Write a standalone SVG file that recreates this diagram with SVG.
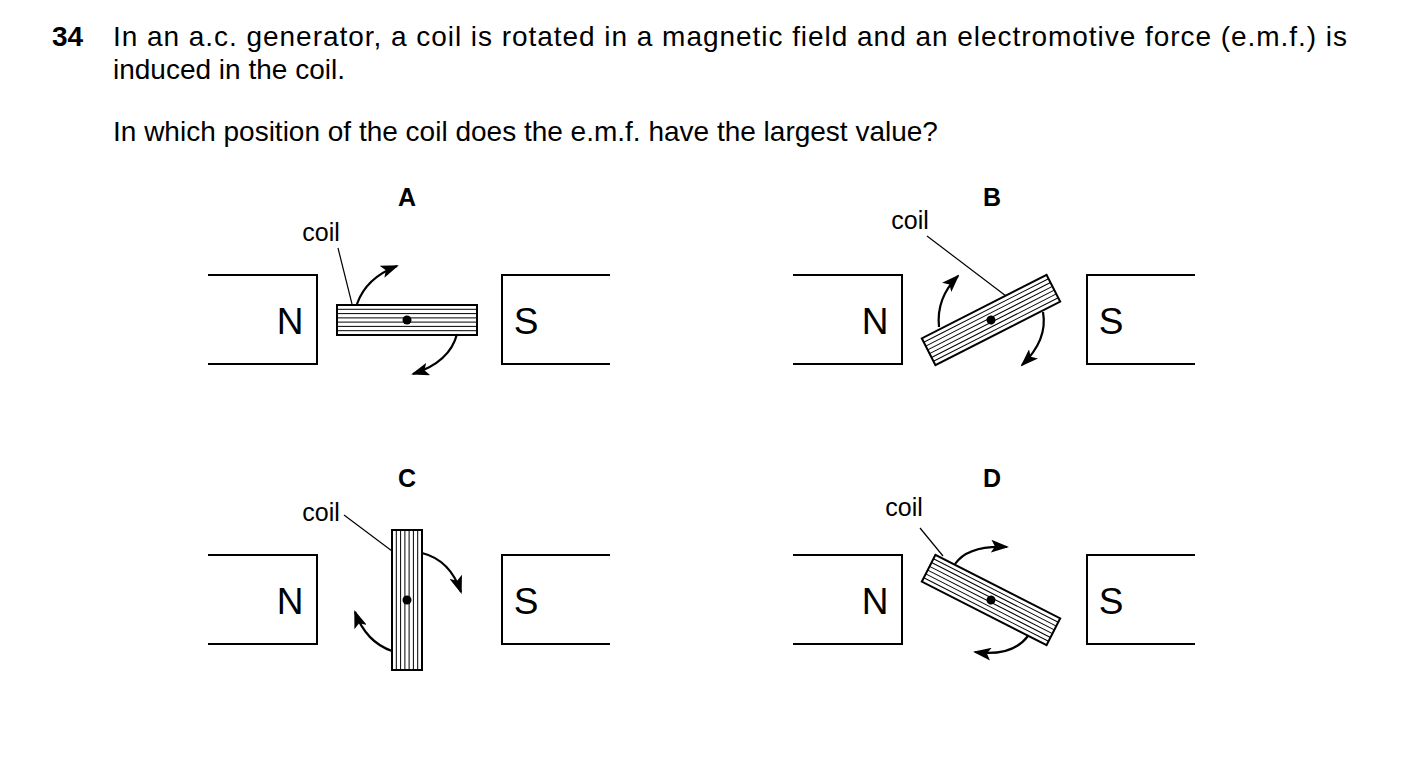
<svg xmlns="http://www.w3.org/2000/svg" width="1403" height="763" viewBox="0 0 1403 763">
<style>
text{font-family:"Liberation Sans",Arial,sans-serif;fill:#000}
.q{font-size:28px}
.b{font-weight:bold}
.lbl{font-size:25px;font-weight:bold;text-anchor:middle}
.coil{font-size:25px;text-anchor:middle}
.pole{font-size:37px;text-anchor:middle}
.mag{fill:none;stroke:#000;stroke-width:2}
.lead{stroke:#000;stroke-width:1.2;fill:none}
.arr{stroke:#000;stroke-width:2.2;fill:none;marker-end:url(#ah)}
.cr{fill:#fff;stroke:#000;stroke-width:2}
.h{stroke:#000;stroke-width:1}
</style>
<defs>
<marker id="ah" markerWidth="18" markerHeight="13" refX="16" refY="6.5" orient="auto" markerUnits="userSpaceOnUse" viewBox="0 0 18 13"><path d="M0,0 L18,6.5 L0,13 L4,6.5 Z" fill="#000"/></marker>
<g id="coilshape">
<rect class="cr" x="-70" y="-15" width="140" height="30"/>
<path class="h" d="M-70,-10.7H70M-70,-6.4H70M-70,-2.1H70M-70,2.1H70M-70,6.4H70M-70,10.7H70"/>
<circle r="4.5" fill="#000"/>
</g>
<g id="magnets">
<path class="mag" d="M208,275H317V364H208"/>
<path class="mag" d="M610,275H502V364H610"/>
<text class="pole" x="290" y="334">N</text>
<text class="pole" x="526" y="334">S</text>
</g>
</defs>
<g id="question">
<text class="q b" x="52" y="46">34</text>
<text class="q" x="113" y="46" textLength="1234" lengthAdjust="spacing">In an a.c. generator, a coil is rotated in a magnetic field and an electromotive force (e.m.f.) is</text>
<text class="q" x="113" y="79">induced in the coil.</text>
<text class="q" x="113" y="141">In which position of the coil does the e.m.f. have the largest value?</text>
</g>
<g id="A">
<use href="#magnets"/>
<text class="lbl" x="407" y="206">A</text>
<text class="coil" x="321" y="241">coil</text>
<use href="#coilshape" transform="translate(407,320)"/>
</g>
<g id="B">
<use href="#magnets" transform="translate(585,0)"/>
<text class="lbl" x="992" y="206">B</text>
<text class="coil" x="910" y="229">coil</text>
<use href="#coilshape" transform="translate(991,320) rotate(-27)"/>
</g>
<g id="C">
<use href="#magnets" transform="translate(0,280)"/>
<text class="lbl" x="407" y="487">C</text>
<text class="coil" x="321" y="521">coil</text>
<use href="#coilshape" transform="translate(407,600) rotate(90)"/>
</g>
<g id="D">
<use href="#magnets" transform="translate(585,280)"/>
<text class="lbl" x="992" y="487">D</text>
<text class="coil" x="904" y="516">coil</text>
<use href="#coilshape" transform="translate(991,600) rotate(27)"/>
</g>
<g id="connectors">
<path class="lead" d="M338,248L352,304"/>
<path class="arr" d="M357,304Q366,278 397,266"/>
<path class="arr" d="M457,334Q450,362 413,374"/>
<path class="lead" d="M927,236L1006,296"/>
<path class="arr" d="M939,327Q936,298 958,276"/>
<path class="arr" d="M1043,312Q1048,340 1022,365"/>
<path class="lead" d="M344,515L392,551"/>
<path class="arr" d="M422,553Q450,560 461,592"/>
<path class="arr" d="M392,651Q366,642 355,612"/>
<path class="lead" d="M920,528L943,556"/>
<path class="arr" d="M955,564Q968,545 1007,547"/>
<path class="arr" d="M1028,636Q1012,657 975,652"/>
</g>
</svg>
